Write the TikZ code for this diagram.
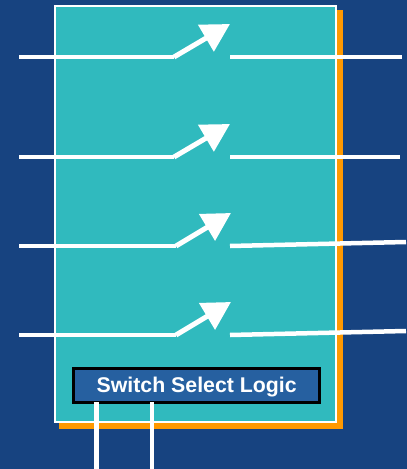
\documentclass[tikz,border=0pt]{standalone}
\usepackage{fontspec}
\setmainfont{Liberation Sans}
\usetikzlibrary{calc,arrows.meta}

\definecolor{bgblue}{RGB}{23,67,128}
\definecolor{panelteal}{RGB}{48,186,190}
\definecolor{shadoworange}{RGB}{255,153,0}
\definecolor{logicblue}{RGB}{38,96,160}

\begin{document}
\begin{tikzpicture}[x=1pt,y=-1pt,
    wire/.style={draw=white, line width=4.5pt},
    lever/.style={wire, line width=5pt, -{Triangle[length=28pt,width=30pt]}},
    panel/.style={rectangle, anchor=north west, inner sep=0pt},
    logic/.style={rectangle, draw=black, line width=3pt, fill=logicblue, text=white, font=\bfseries\fontsize{21.3}{24}\selectfont,
        text depth=0.7pt, minimum width=245.7pt, minimum height=33.7pt, inner sep=0pt}]

    \fill[bgblue] (0,0) rectangle (407,469);
    \useasboundingbox (0,0) rectangle (407,469);

    \node[panel,fill=shadoworange,minimum width=284pt,minimum height=419pt] (Shadow) at (59,10) {};
    \node[panel,fill=panelteal,draw=white,line width=2pt,minimum width=281pt,minimum height=415.5pt] (Panel) at (54,5) {};
    \node[logic] (Logic) at (196.7,385.3) {Switch Select Logic};

    \coordinate (In1) at (19,57);
    \coordinate (A1) at (174,57);
    \coordinate (T1) at (230,24);
    \coordinate (B1) at (230,57);
    \coordinate (Out1) at (402,57);
    \coordinate (In2) at (19,157);
    \coordinate (A2) at (174,157);
    \coordinate (T2) at (230,124);
    \coordinate (B2) at (230,157);
    \coordinate (Out2) at (400,157);
    \coordinate (In3) at (19,246);
    \coordinate (A3) at (176,246);
    \coordinate (T3) at (231,213);
    \coordinate (B3) at (230,246);
    \coordinate (Out3) at (406,242);
    \coordinate (In4) at (19,335);
    \coordinate (A4) at (176,335);
    \coordinate (T4) at (231,302);
    \coordinate (B4) at (230,335);
    \coordinate (Out4) at (406,331);
    \coordinate (Sel1) at (96.3,469);
    \coordinate (Sel2) at (152,469);

    \draw[wire] (In1) -- (A1);
    \draw[lever] (A1) -- (T1);
    \draw[wire] (B1) -- (Out1);
    \draw[wire] (In2) -- (A2);
    \draw[lever] (A2) -- (T2);
    \draw[wire] (B2) -- (Out2);
    \draw[wire] (In3) -- (A3);
    \draw[lever] (A3) -- (T3);
    \draw[wire] (B3) -- (Out3);
    \draw[wire] (In4) -- (A4);
    \draw[lever] (A4) -- (T4);
    \draw[wire] (B4) -- (Out4);
    \draw[wire] ([yshift=1.5pt]Logic.south -| Sel1) -- (Sel1);
    \draw[wire] ([yshift=1.5pt]Logic.south -| Sel2) -- (Sel2);
  \end{tikzpicture}
\end{document}
